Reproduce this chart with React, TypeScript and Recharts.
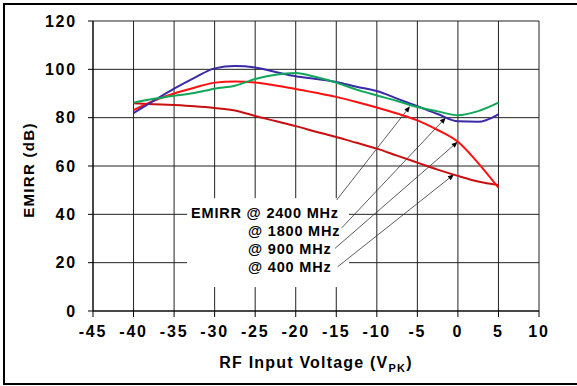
import React from "react";
import {
  LineChart,
  Line,
  XAxis,
  YAxis,
  CartesianGrid,
  ReferenceArea,
  ReferenceLine,
  Label,
} from "recharts";

// RF input voltage (Vpk)
const voltage = [
  -40, -37.5, -35, -32.5, -30, -27.5, -25, -22.5, -20, -17.5, -15, -12.5, -10,
  -7.5, -5, -2.5, 0, 2.5, 5,
];

// EMIRR (dB)
const emirr2400 = [
  86.2, 87.8, 89.1, 90.2, 92.0, 93.2, 96.0, 97.8, 98.5, 96.8, 94.5, 91.6, 89.2,
  86.9, 84.4, 82.6, 81.0, 82.7, 86.2,
];
const emirr1800 = [
  81.9, 87.0, 92.0, 96.5, 100.4, 101.4, 100.8, 98.9, 97.1, 96.0, 94.8, 92.8,
  91.0, 87.9, 84.7, 81.5, 78.5, 78.3, 81.4,
];
const emirr900 = [
  83.1, 87.0, 90.0, 92.4, 94.5, 95.0, 94.6, 93.3, 91.9, 90.3, 88.6, 86.5, 84.2,
  81.7, 78.9, 74.9, 70.0, 61.2, 51.0,
];
const emirr400 = [
  86.0, 85.6, 85.2, 84.7, 84.0, 83.0, 80.7, 78.6, 76.5, 74.2, 72.0, 69.6, 67.2,
  64.3, 61.4, 58.5, 55.9, 53.6, 52.1,
];

const xTicks = [-45, -40, -35, -30, -25, -20, -15, -10, -5, 0, 5, 10];
const yTicks = [0, 20, 40, 60, 80, 100, 120];

const legendLines = ["EMIRR @ 2400 MHz", "@ 1800 MHz", "@ 900 MHz", "@ 400 MHz"];

// callout arrows: from label text to the curve
const arrows = [
  { x1: -14.96, y1: 45.9, x2: -5.91, y2: 84.7 },
  { x1: -14.33, y1: 34.4, x2: -1.5, y2: 80.0 },
  { x1: -15.16, y1: 25.9, x2: -0.03, y2: 70.0 },
  { x1: -14.83, y1: 18.3, x2: -0.49, y2: 56.5 },
];

const data = voltage.map((v, i) => ({
  v,
  e2400: emirr2400[i],
  e1800: emirr1800[i],
  e900: emirr900[i],
  e400: emirr400[i],
}));

const FONT = "'Liberation Sans', Arial, sans-serif";
const tickStyle = {
  fill: "#000",
  fontSize: 16,
  fontWeight: 700,
  fontFamily: FONT,
  letterSpacing: 1.8,
};

const LegendBox = (props: any) => {
  const { x, y, width, height } = props;
  const baselines = [19.7, 37.7, 56, 74.3];
  return (
    <g>
      <rect x={x} y={y} width={width} height={height} fill="#fff" />
      {legendLines.map((t, i) => (
        <text
          key={t}
          x={i === 0 ? x + 4 : x + 61}
          y={y + baselines[i]}
          fontSize={14.5}
          fontWeight={700}
          fontFamily={FONT}
          letterSpacing={0.8}
          fill="#000"
        >
          {t}
        </text>
      ))}
    </g>
  );
};

const Arrow = (props: any) => {
  const { x1, y1, x2, y2 } = props;
  const ang = Math.atan2(y2 - y1, x2 - x1);
  const len = 6;
  const w = 2.5;
  const bx = x2 - len * Math.cos(ang);
  const by = y2 - len * Math.sin(ang);
  const px = -Math.sin(ang) * w;
  const py = Math.cos(ang) * w;
  return (
    <g>
      <line x1={x1} y1={y1} x2={bx} y2={by} stroke="#333" strokeWidth={0.8} />
      <polygon
        points={`${x2},${y2} ${bx + px},${by + py} ${bx - px},${by - py}`}
        fill="#000"
      />
    </g>
  );
};

const XTitle = (props: any) => {
  const { viewBox } = props;
  const cx = viewBox.x + viewBox.width / 2;
  return (
    <text
      x={cx}
      y={viewBox.y + 57}
      textAnchor="middle"
      fontSize={16}
      fontWeight={700}
      fontFamily={FONT}
      letterSpacing={1.2}
      fill="#000"
    >
      RF Input Voltage (V
      <tspan fontSize={11} dy={4}>
        PK
      </tspan>
      <tspan dy={-4}>)</tspan>
    </text>
  );
};

const YTitle = (props: any) => {
  const { viewBox } = props;
  const cx = viewBox.x + 28.5;
  const cy = viewBox.y + viewBox.height / 2 + 4;
  return (
    <text
      x={cx}
      y={cy}
      transform={`rotate(-90, ${cx}, ${cy})`}
      textAnchor="middle"
      dominantBaseline="central"
      fontSize={15}
      fontWeight={700}
      fontFamily={FONT}
      letterSpacing={1.3}
      fill="#000"
    >
      EMIRR (dB)
    </text>
  );
};

export default function App() {
  return (
    <div style={{ position: "absolute", left: 0, top: 0, width: 577, height: 386 }}>
      <div
        style={{
          position: "absolute",
          left: 3,
          top: 3,
          width: 574,
          height: 382,
          boxSizing: "border-box",
          borderLeft: "2px solid #000",
          borderTop: "2px solid #000",
          borderBottom: "2px solid #000",
        }}
      />
      <div style={{ position: "absolute", left: 0, top: 0 }}>
        <LineChart
          width={577}
          height={386}
          data={data}
          margin={{ top: 21, right: 38, bottom: 0, left: 0 }}
        >
          <CartesianGrid stroke="#222" strokeWidth={1} />
          <XAxis
            dataKey="v"
            type="number"
            domain={[-45, 10]}
            ticks={xTicks}
            interval={0}
            height={75}
            tickSize={6}
            tickMargin={9}
            tick={tickStyle}
            axisLine={{ stroke: "#000" }}
            tickLine={{ stroke: "#000" }}
          >
            <Label content={XTitle} />
          </XAxis>
          <YAxis
            type="number"
            domain={[0, 120]}
            ticks={yTicks}
            interval={0}
            width={93}
            tickSize={5}
            tickMargin={11}
            tick={tickStyle}
            axisLine={{ stroke: "#000" }}
            tickLine={{ stroke: "#000" }}
          >
            <Label content={YTitle} />
          </YAxis>
          <ReferenceArea
            x1={-33.4}
            x2={-13.43}
            y1={9.9}
            y2={46.7}
            shape={LegendBox}
          />
          {arrows.map((a, i) => (
            <ReferenceLine
              key={i}
              segment={[
                { x: a.x1, y: a.y1 },
                { x: a.x2, y: a.y2 },
              ]}
              shape={Arrow}
            />
          ))}
          <Line
            dataKey="e400"
            type="monotone"
            stroke="#c81010"
            strokeWidth={2}
            dot={false}
            isAnimationActive={false}
          />
          <Line
            dataKey="e900"
            type="monotone"
            stroke="#ff1010"
            strokeWidth={2}
            dot={false}
            isAnimationActive={false}
          />
          <Line
            dataKey="e1800"
            type="monotone"
            stroke="#3a2aa8"
            strokeWidth={2}
            dot={false}
            isAnimationActive={false}
          />
          <Line
            dataKey="e2400"
            type="monotone"
            stroke="#10a858"
            strokeWidth={2}
            dot={false}
            isAnimationActive={false}
          />
        </LineChart>
      </div>
    </div>
  );
}
